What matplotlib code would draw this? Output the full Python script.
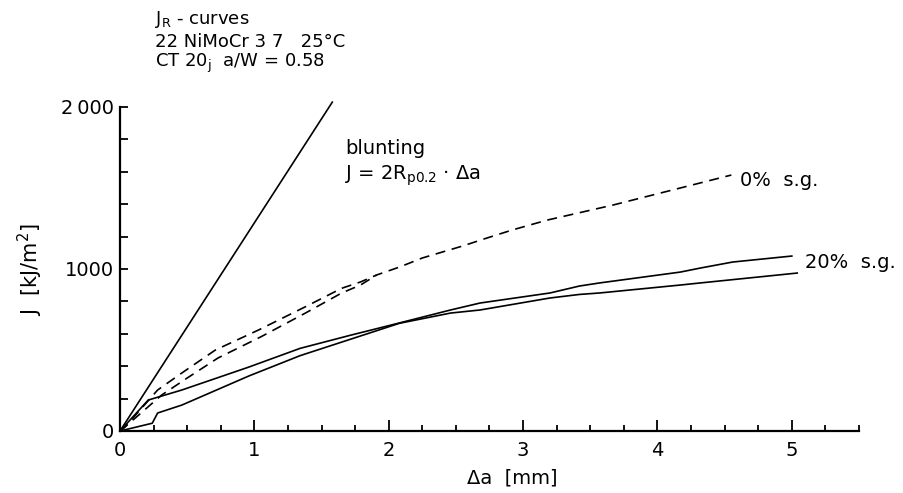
import matplotlib
matplotlib.use("Agg")
from matplotlib import pyplot as plt
from matplotlib.ticker import MultipleLocator, FixedLocator

# J_R curves (delta a in mm, J in kJ/m^2)
blunt_da = [0.0, 1.58]
blunt_J = [0, 2030]

# 0 % side groove, two specimens (dashed), they merge near 1.9 mm
sg0_a_da = [0.0, 0.04, 0.28, 0.46, 0.71, 1.03, 1.38, 1.65, 1.79, 1.91, 2.08, 2.25,
            2.40, 2.55, 2.73, 2.92, 3.18, 3.67, 4.17, 4.55]
sg0_a_J = [0, 27, 253, 358, 500, 623, 767, 881, 920, 963, 1012, 1068,
           1105, 1142, 1191, 1241, 1302, 1395, 1500, 1580]
sg0_b_da = [0.0, 0.04, 0.31, 0.50, 0.73, 1.05, 1.38, 1.65, 1.79, 1.91]
sg0_b_J = [0, 27, 222, 327, 451, 582, 728, 852, 901, 963]

# 20 % side groove, two specimens (solid)
sg20_a_da = [0.0, 0.21, 0.46, 0.96, 1.34, 1.71, 2.08, 2.46, 2.68, 3.20, 3.42, 3.57,
             4.17, 4.32, 4.56, 5.0]
sg20_a_J = [0, 191, 253, 395, 510, 590, 667, 747, 790, 852, 895, 914,
            981, 1006, 1043, 1080]
sg20_b_da = [0.0, 0.24, 0.28, 0.46, 0.96, 1.34, 1.71, 2.08, 2.46, 2.68, 3.20, 3.42,
             3.57, 4.17, 4.32, 5.04]
sg20_b_J = [0, 48, 111, 160, 340, 465, 565, 665, 728, 747, 821, 843,
            852, 901, 914, 975]

x_ticks = [0, 1, 2, 3, 4, 5]
y_ticks = [0, 1000, 2000]
y_labels = ["0", "1000", "2\u2009000"]

W, H = 904, 493
fig = plt.figure(figsize=(W / 100, H / 100), dpi=100)
ax = fig.add_axes([120 / W, 62 / H, 739 / W, 324 / H])

lw = 1.2
dash = (0, (6, 4))
ax.plot(blunt_da, blunt_J, color='black', lw=lw, clip_on=False)
ax.plot(sg0_a_da, sg0_a_J, color='black', lw=lw, ls=dash, clip_on=False)
ax.plot(sg0_b_da, sg0_b_J, color='black', lw=lw, ls=dash, clip_on=False)
ax.plot(sg20_a_da, sg20_a_J, color='black', lw=lw, clip_on=False)
ax.plot(sg20_b_da, sg20_b_J, color='black', lw=lw, clip_on=False)

ax.set_xlim(0, 5.5)
ax.set_ylim(0, 2000)
for s in ['top', 'right']:
    ax.spines[s].set_visible(False)
for s in ['left', 'bottom']:
    ax.spines[s].set_linewidth(1.6)

ax.xaxis.set_major_locator(FixedLocator(x_ticks))
ax.xaxis.set_minor_locator(MultipleLocator(0.25))
ax.yaxis.set_major_locator(FixedLocator(y_ticks))
ax.yaxis.set_minor_locator(MultipleLocator(200))
ax.set_yticklabels(y_labels)
ax.tick_params(axis='x', which='major', direction='in', length=8, width=1.3, labelsize=14, pad=7)
ax.tick_params(axis='x', which='minor', direction='in', length=4.5, width=1.3)
ax.tick_params(axis='y', which='both', direction='in', length=6, width=1.3, labelsize=14, pad=4)

def ftext(x, y, s, **kw):
    fig.text(x / W, 1 - y / H, s, **kw)

ftext(155, 20, "J$_\\mathrm{R}$ - curves", fontsize=13, va='center')
ftext(155, 42, "22 NiMoCr 3 7   25\u00b0C", fontsize=13, va='center')
ftext(155, 63, "CT 20$_\\mathrm{j}$  a/W = 0.58", fontsize=13, va='center')

ftext(345, 148, "blunting", fontsize=14, va='center')
ftext(345, 176, "J = 2R$_\\mathrm{p0.2}$ \u00b7 \u0394a", fontsize=14, va='center')
ftext(740, 180, "0%  s.g.", fontsize=14, va='center')
ftext(805, 262, "20%  s.g.", fontsize=14, va='center')

ftext(512, 478, "\u0394a  [mm]", fontsize=14, ha='center', va='center')
ftext(30, 270, "J  [kJ/m$^2$]", fontsize=15, ha='center', va='center', rotation=90)

fig.savefig("out.png", dpi=100, facecolor='white')
